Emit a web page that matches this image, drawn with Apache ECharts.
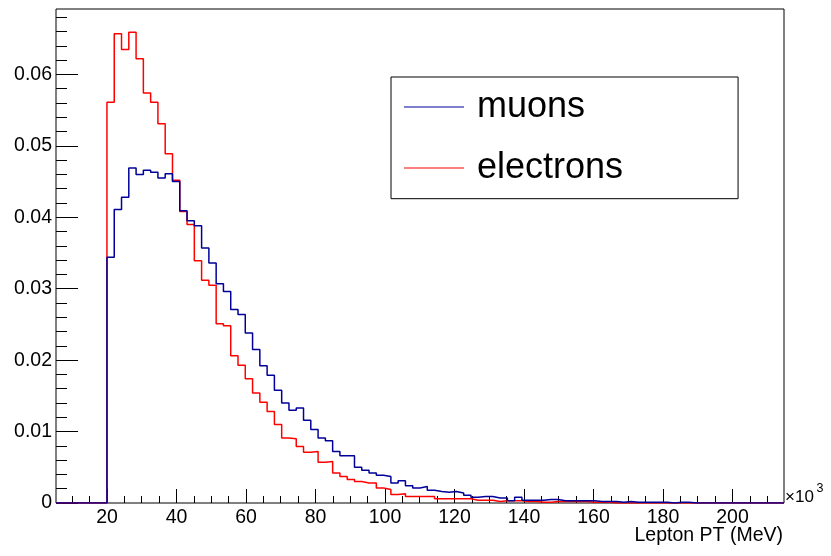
<!DOCTYPE html>
<html>
<head>
<meta charset="utf-8">
<script src="https://cdn.jsdelivr.net/npm/echarts@6/dist/echarts.min.js"></script>
<style>
  html, body { margin: 0; padding: 0; background: #fff; }
  #chart { width: 831px; height: 556px; }
</style>
</head>
<body>
<div id="chart"></div>
<script>
// Normalised lepton transverse momentum, x in units of 10^3 MeV.
// 100 equal bins; the first seven (below the 20 GeV cut) are empty.
const binLow = 5.33;
const binWidth = 2.095;

const muons = [
  0, 0, 0, 0, 0, 0, 0,
  0.0344, 0.0411, 0.0428, 0.0469, 0.0460, 0.0466, 0.0463, 0.0455, 0.0461, 0.0450,
  0.0409, 0.0395, 0.0388, 0.0357, 0.0336, 0.0307, 0.0296, 0.0271, 0.0264, 0.0238,
  0.0215, 0.0192, 0.0179, 0.0158, 0.0140, 0.0130, 0.0133, 0.0116, 0.0103, 0.0091,
  0.0087, 0.0072, 0.0066, 0.0066, 0.0050, 0.0046, 0.0042, 0.0039, 0.0037, 0.0028,
  0.0031, 0.0024, 0.0021, 0.0023, 0.0018, 0.0016, 0.0015, 0.0016, 0.0014, 0.0011,
  0.0008, 0.0009, 0.0009, 0.0007, 0.0007, 0.0003, 0.0008, 0.0004, 0.0004, 0.0004,
  0.0005, 0.0005, 0.0003, 0.0003, 0.0003, 0.0003, 0.0003, 0.0002, 0.0002, 0.0002,
  0.0001, 0.0002, 0.0001, 0.0001, 0.0001, 0.0001, 0.0001, 0, 0.0001, 0.0001,
  0, 0, 0, 0, 0, 0, 0, 0, 0, 0, 0, 0, 0
];

const electrons = [
  0, 0, 0, 0, 0, 0, 0,
  0.0561, 0.0657, 0.0635, 0.0659, 0.0622, 0.0574, 0.0561, 0.0531, 0.0489, 0.0452,
  0.0408, 0.0390, 0.0339, 0.0312, 0.0305, 0.0251, 0.0248, 0.0206, 0.0193, 0.0174,
  0.0154, 0.0141, 0.0128, 0.0110, 0.0091, 0.0090, 0.0079, 0.0071, 0.0072, 0.0057,
  0.0058, 0.0042, 0.0037, 0.0033, 0.0030, 0.0028, 0.0028, 0.0021, 0.0019, 0.0012,
  0.0013, 0.0009, 0.0009, 0.0009, 0.0009, 0.0006, 0.0006, 0.0006, 0.0006, 0.0006,
  0.0004, 0.0004, 0.0004, 0.0002, 0.0003, 0.0003, 0.0003, 0.0002, 0.0002, 0.0001,
  0.0001, 0.0002, 0.0002, 0.0002, 0.0002, 0.0002, 0.0001, 0.0001, 0.0001, 0,
  0, 0, 0, 0, 0, 0, 0, 0, 0, 0,
  0, 0, 0, 0, 0, 0, 0, 0, 0, 0, 0, 0, 0
];

const xMajorTicks = [20, 40, 60, 80, 100, 120, 140, 160, 180, 200];
const yMajorTicks = [0, 0.01, 0.02, 0.03, 0.04, 0.05, 0.06];

// minor divisions: every 5 on x, every 0.002 on y
const xMinorTicks = [];
for (let v = 10; v <= 210; v += 5) if (v % 20 !== 0) xMinorTicks.push(v);
const yMinorTicks = [];
for (let i = 1; i <= 34; i++) if (i % 5 !== 0) yMinorTicks.push(Math.round(i * 2) / 1000);

const xMin = binLow;
const xMax = binLow + muons.length * binWidth;
const yMax = 0.06916;

// histogram outline: one point per lower bin edge plus the closing upper edge
function outline(values) {
  const pts = values.map((v, i) => [binLow + i * binWidth, v]);
  pts.push([binLow + values.length * binWidth, values[values.length - 1]]);
  return pts;
}

const FONT = 'Liberation Sans';
const chart = echarts.init(document.getElementById('chart'), null, { renderer: 'canvas' });

chart.setOption({
  animation: false,
  backgroundColor: '#fff',
  grid: {
    left: 56, top: 9, width: 728, height: 494,
    show: true, borderColor: '#000', borderWidth: 1, backgroundColor: 'transparent'
  },
  xAxis: [
    {
      type: 'value', position: 'bottom', min: xMin, max: xMax,
      axisLine: { show: false }, splitLine: { show: false },
      axisTick: { show: true, inside: true, length: 14, customValues: xMajorTicks,
                  lineStyle: { color: '#000', width: 1 } },
      axisLabel: { show: true, customValues: xMajorTicks, margin: 5,
                   fontFamily: FONT, fontSize: 19.5, color: '#000' }
    },
    {
      type: 'value', position: 'bottom', min: xMin, max: xMax,
      axisLine: { show: false }, splitLine: { show: false },
      axisTick: { show: true, inside: true, length: 7, customValues: xMinorTicks,
                  lineStyle: { color: '#000', width: 1 } },
      axisLabel: { show: false }
    }
  ],
  yAxis: [
    {
      type: 'value', position: 'left', min: 0, max: yMax,
      axisLine: { show: false }, splitLine: { show: false },
      axisTick: { show: true, inside: true, length: 22, customValues: yMajorTicks,
                  lineStyle: { color: '#000', width: 1 } },
      axisLabel: { show: true, customValues: yMajorTicks, margin: 4,
                   fontFamily: FONT, fontSize: 19.5, color: '#000' }
    },
    {
      type: 'value', position: 'left', min: 0, max: yMax,
      axisLine: { show: false }, splitLine: { show: false },
      axisTick: { show: true, inside: true, length: 11, customValues: yMinorTicks,
                  lineStyle: { color: '#000', width: 1 } },
      axisLabel: { show: false }
    }
  ],
  legend: {
    orient: 'vertical',
    left: 391, top: 77,
    padding: [12, 115, 12.7, 13],
    icon: 'rect',
    itemWidth: 60, itemHeight: 1.2, itemGap: 25,
    backgroundColor: '#fff', borderColor: '#000', borderWidth: 1, borderRadius: 0,
    selectedMode: false,
    textStyle: { fontFamily: FONT, fontSize: 36, lineHeight: 36, color: '#000', padding: [0, 0, 0, 8] },
    data: ['muons', 'electrons']
  },
  series: [
    {
      name: 'electrons', type: 'line', step: 'end', symbol: 'none',
      xAxisIndex: 0, yAxisIndex: 0,
      lineStyle: { color: '#ff0000', width: 1.5 }, itemStyle: { color: '#ff0000' },
      data: outline(electrons), silent: true, z: 2
    },
    {
      name: 'muons', type: 'line', step: 'end', symbol: 'none',
      xAxisIndex: 0, yAxisIndex: 0,
      lineStyle: { color: '#000099', width: 1.5 }, itemStyle: { color: '#000099' },
      data: outline(muons), silent: true, z: 3
    }
  ],
  graphic: [
    {
      type: 'text', right: 831 - 783, top: 526,
      style: { text: 'Lepton PT (MeV)', fontFamily: FONT, fontSize: 19.5, fill: '#000' }
    },
    {
      type: 'text', left: 785, top: 489,
      style: { text: '×10', fontFamily: FONT, fontSize: 17, fill: '#000' }
    },
    {
      type: 'text', left: 816.5, top: 482.5,
      style: { text: '3', fontFamily: FONT, fontSize: 12.5, fill: '#000' }
    }
  ]
});
</script>
</body>
</html>
